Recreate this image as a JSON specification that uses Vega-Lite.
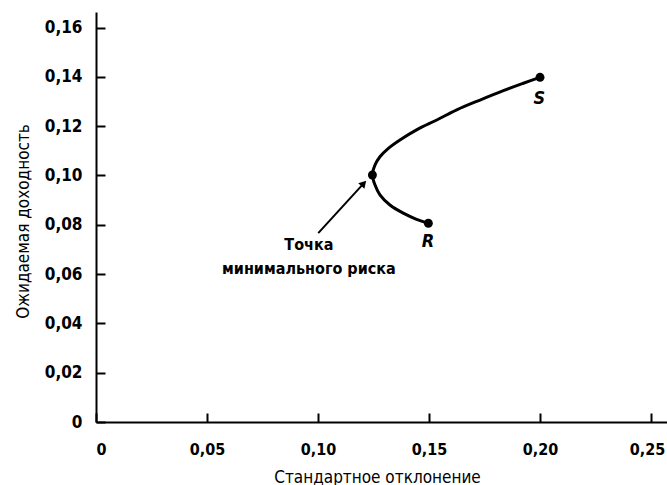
{
  "$schema": "https://vega.github.io/schema/vega-lite/v6.json",
  "width": 571,
  "height": 410,
  "autosize": {"type": "none"},
  "padding": {"left": 96, "top": 12, "right": 0, "bottom": 63},
  "background": "white",
  "config": {
    "view": {"stroke": null},
    "font": "DejaVu Sans Condensed",
    "axis": {
      "grid": false,
      "domainColor": "black",
      "domainWidth": 2,
      "tickColor": "black",
      "tickWidth": 2,
      "tickSize": -9,
      "labelFont": "DejaVu Sans Condensed",
      "labelFontSize": 17,
      "labelFontWeight": "bold",
      "labelColor": "black",
      "titleFont": "DejaVu Sans Condensed",
      "titleFontSize": 17,
      "titleFontWeight": "normal",
      "titleColor": "black"
    }
  },
  "layer": [
    {
      "data": {"values": [
        {"i": 0, "sd": 0.1497, "ret": 0.0806},
        {"i": 1, "sd": 0.1444, "ret": 0.0822},
        {"i": 2, "sd": 0.1384, "ret": 0.0847},
        {"i": 3, "sd": 0.1324, "ret": 0.0880},
        {"i": 4, "sd": 0.1279, "ret": 0.0921},
        {"i": 5, "sd": 0.1257, "ret": 0.0961},
        {"i": 6, "sd": 0.1245, "ret": 0.1002},
        {"i": 7, "sd": 0.1257, "ret": 0.1043},
        {"i": 8, "sd": 0.1279, "ret": 0.1076},
        {"i": 9, "sd": 0.1317, "ret": 0.1110},
        {"i": 10, "sd": 0.1369, "ret": 0.1144},
        {"i": 11, "sd": 0.1444, "ret": 0.1185},
        {"i": 12, "sd": 0.1535, "ret": 0.1225},
        {"i": 13, "sd": 0.1625, "ret": 0.1266},
        {"i": 14, "sd": 0.1730, "ret": 0.1306},
        {"i": 15, "sd": 0.1835, "ret": 0.1344},
        {"i": 16, "sd": 0.1925, "ret": 0.1374},
        {"i": 17, "sd": 0.2000, "ret": 0.1398}
      ]},
      "mark": {"type": "line", "color": "black", "strokeWidth": 3, "interpolate": "catmull-rom"},
      "encoding": {
        "x": {
          "field": "sd", "type": "quantitative",
          "scale": {"domain": [0, 0.2572], "nice": false, "zero": false},
          "axis": {
            "values": [0, 0.05, 0.1, 0.15, 0.2, 0.25],
            "labelExpr": "datum.value == 0 ? '0' : replace(format(datum.value, '.2f'), '.', ',')",
            "labelFontSize": 16,
            "labelPadding": 28,
            "labelOffset": {"condition": {"test": "datum.value > 0.24", "value": -4}, "value": 0},
            "title": "Стандартное отклонение",
            "titlePadding": 12,
            "titleX": 281
          }
        },
        "y": {
          "field": "ret", "type": "quantitative",
          "scale": {"domain": [0, 0.1663], "nice": false, "zero": false},
          "axis": {
            "values": [0, 0.02, 0.04, 0.06, 0.08, 0.1, 0.12, 0.14, 0.16],
            "labelExpr": "datum.value == 0 ? '0' : replace(format(datum.value, '.2f'), '.', ',')",
            "labelPadding": 23,
            "title": "Ожидаемая доходность",
            "titlePadding": 12,
            "titleY": 209
          }
        },
        "order": {"field": "i", "type": "quantitative"}
      }
    },
    {
      "data": {"values": [
        {"sd": 0.1497, "ret": 0.0806},
        {"sd": 0.1245, "ret": 0.1002},
        {"sd": 0.2000, "ret": 0.1398}
      ]},
      "mark": {"type": "point", "filled": true, "color": "black", "size": 80, "opacity": 1},
      "encoding": {
        "x": {"field": "sd", "type": "quantitative"},
        "y": {"field": "ret", "type": "quantitative"}
      }
    },
    {
      "data": {"values": [
        {"sd": 0.1001, "ret": 0.0766, "sd2": 0.1206, "ret2": 0.0968}
      ]},
      "mark": {"type": "rule", "color": "black", "strokeWidth": 2},
      "encoding": {
        "x": {"field": "sd", "type": "quantitative"},
        "y": {"field": "ret", "type": "quantitative"},
        "x2": {"field": "sd2"},
        "y2": {"field": "ret2"}
      }
    },
    {
      "data": {"values": [
        {"sd": 0.1206, "ret": 0.0968}
      ]},
      "mark": {"type": "point", "shape": "triangle-up", "filled": true, "color": "black", "size": 70, "angle": 42, "opacity": 1},
      "encoding": {
        "x": {"field": "sd", "type": "quantitative"},
        "y": {"field": "ret", "type": "quantitative"}
      }
    },
    {
      "data": {"values": [
        {"sd": 0.0959, "ret": 0.0718, "label": "Точка"},
        {"sd": 0.0959, "ret": 0.0621, "label": "минимального риска"}
      ]},
      "mark": {"type": "text", "font": "DejaVu Sans Condensed", "fontSize": 16, "fontWeight": "bold", "color": "black", "align": "center", "baseline": "middle"},
      "encoding": {
        "x": {"field": "sd", "type": "quantitative"},
        "y": {"field": "ret", "type": "quantitative"},
        "text": {"field": "label"}
      }
    },
    {
      "data": {"values": [
        {"sd": 0.1997, "ret": 0.1312, "label": "S"},
        {"sd": 0.1495, "ret": 0.0730, "label": "R"}
      ]},
      "mark": {"type": "text", "font": "DejaVu Sans Condensed", "fontSize": 18, "fontWeight": "bold", "fontStyle": "italic", "color": "black", "align": "center", "baseline": "middle"},
      "encoding": {
        "x": {"field": "sd", "type": "quantitative"},
        "y": {"field": "ret", "type": "quantitative"},
        "text": {"field": "label"}
      }
    }
  ]
}
